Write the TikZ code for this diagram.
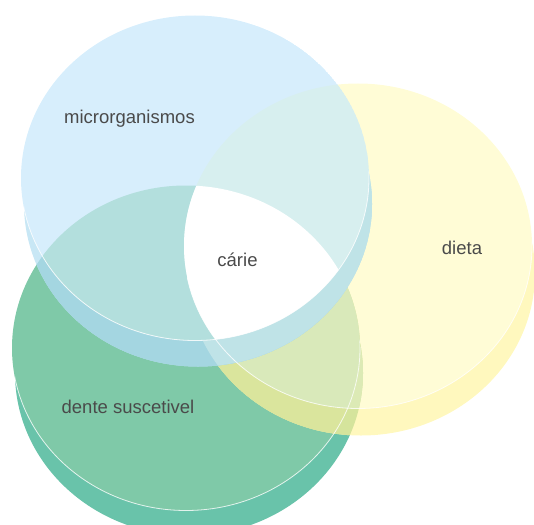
\documentclass[tikz,border=0pt]{standalone}
\usepackage{fontspec}
\setmainfont{Liberation Sans}
\usepackage{xcolor}
\usepackage{tikz}
\definecolor{bluetop}{RGB}{215,238,252}
\definecolor{blueside}{RGB}{200,231,245}
\definecolor{yellowtop}{RGB}{255,252,214}
\definecolor{yellowside}{RGB}{255,248,190}
\definecolor{greentop}{RGB}{127,201,168}
\definecolor{greenside}{RGB}{105,195,170}
\definecolor{ytopgtop}{RGB}{217,233,186}
\definecolor{ysidegtop}{RGB}{218,229,157}
\definecolor{ytopgside}{RGB}{220,234,181}
\definecolor{ysidegside}{RGB}{213,228,156}
\definecolor{bsidegreen}{RGB}{164,214,225}
\definecolor{bsideyellow}{RGB}{191,227,231}
\definecolor{btopgreen}{RGB}{179,223,221}
\definecolor{btopyellow}{RGB}{215,239,239}
\definecolor{labelgray}{RGB}{74,74,74}

\begin{document}
\begin{tikzpicture}[x=1pt, y=-1pt, font=\fontsize{18.5}{20}\selectfont,
  discsize/.style={x radius=174pt, y radius=162.5pt},
  rim/.style={white, line width=0.8pt, opacity=0.8},
  lbl/.style={anchor=base, text=labelgray, inner sep=0pt}]
  \useasboundingbox (0,0) rectangle (534,524);
  \clip (0,0) rectangle (534,524);
  \coordinate (mt) at (195,178);
  \coordinate (ms) at (198,204);
  \coordinate (dt) at (358,246);
  \coordinate (ds) at (361,273);
  \coordinate (st) at (186,348);
  \coordinate (ss) at (189,373);
  % discs
  \fill[greenside] (ss) ellipse [discsize];
  \fill[greentop] (st) ellipse [discsize];
  \fill[yellowside] (ds) ellipse [discsize];
  \fill[yellowtop] (dt) ellipse [discsize];
  % dieta over dente
  \begin{scope}
    \clip (ss) ellipse [discsize];
    \fill[ysidegside] (ds) ellipse [discsize];
    \fill[ytopgside] (dt) ellipse [discsize];
  \end{scope}
  \begin{scope}
    \clip (st) ellipse [discsize];
    \fill[ysidegtop] (ds) ellipse [discsize];
    \fill[ytopgtop] (dt) ellipse [discsize];
  \end{scope}
  % microrganismos over both
  \begin{scope}
    \clip (ms) ellipse [discsize];
    \fill[blueside] (ms) ellipse [discsize];
    \fill[bsidegreen] (ss) ellipse [discsize];
    \fill[bsidegreen] (st) ellipse [discsize];
    \fill[bsideyellow] (ds) ellipse [discsize];
    \fill[bsideyellow] (dt) ellipse [discsize];
  \end{scope}
  \begin{scope}
    \clip (mt) ellipse [discsize];
    \fill[bluetop] (mt) ellipse [discsize];
    \fill[btopgreen] (st) ellipse [discsize];
    \fill[btopyellow] (dt) ellipse [discsize];
    \clip (st) ellipse [discsize];
    \fill[white] (dt) ellipse [discsize];
  \end{scope}
  % rims
  \foreach \t/\s in {mt/ms, dt/ds, st/ss} {
    \begin{scope}
      \clip (\s) ellipse [discsize];
      \draw[rim] (\t) ellipse [discsize];
    \end{scope}
  }
  \node[lbl] (micro) at (129.5,123) {microrganismos};
  \node[lbl] (dieta) at (462,254) {dieta};
  \node[lbl] (carie) at (237.5,266) {cárie};
  \node[lbl] (dente) at (128,413) {dente suscetivel};
\end{tikzpicture}
\end{document}
